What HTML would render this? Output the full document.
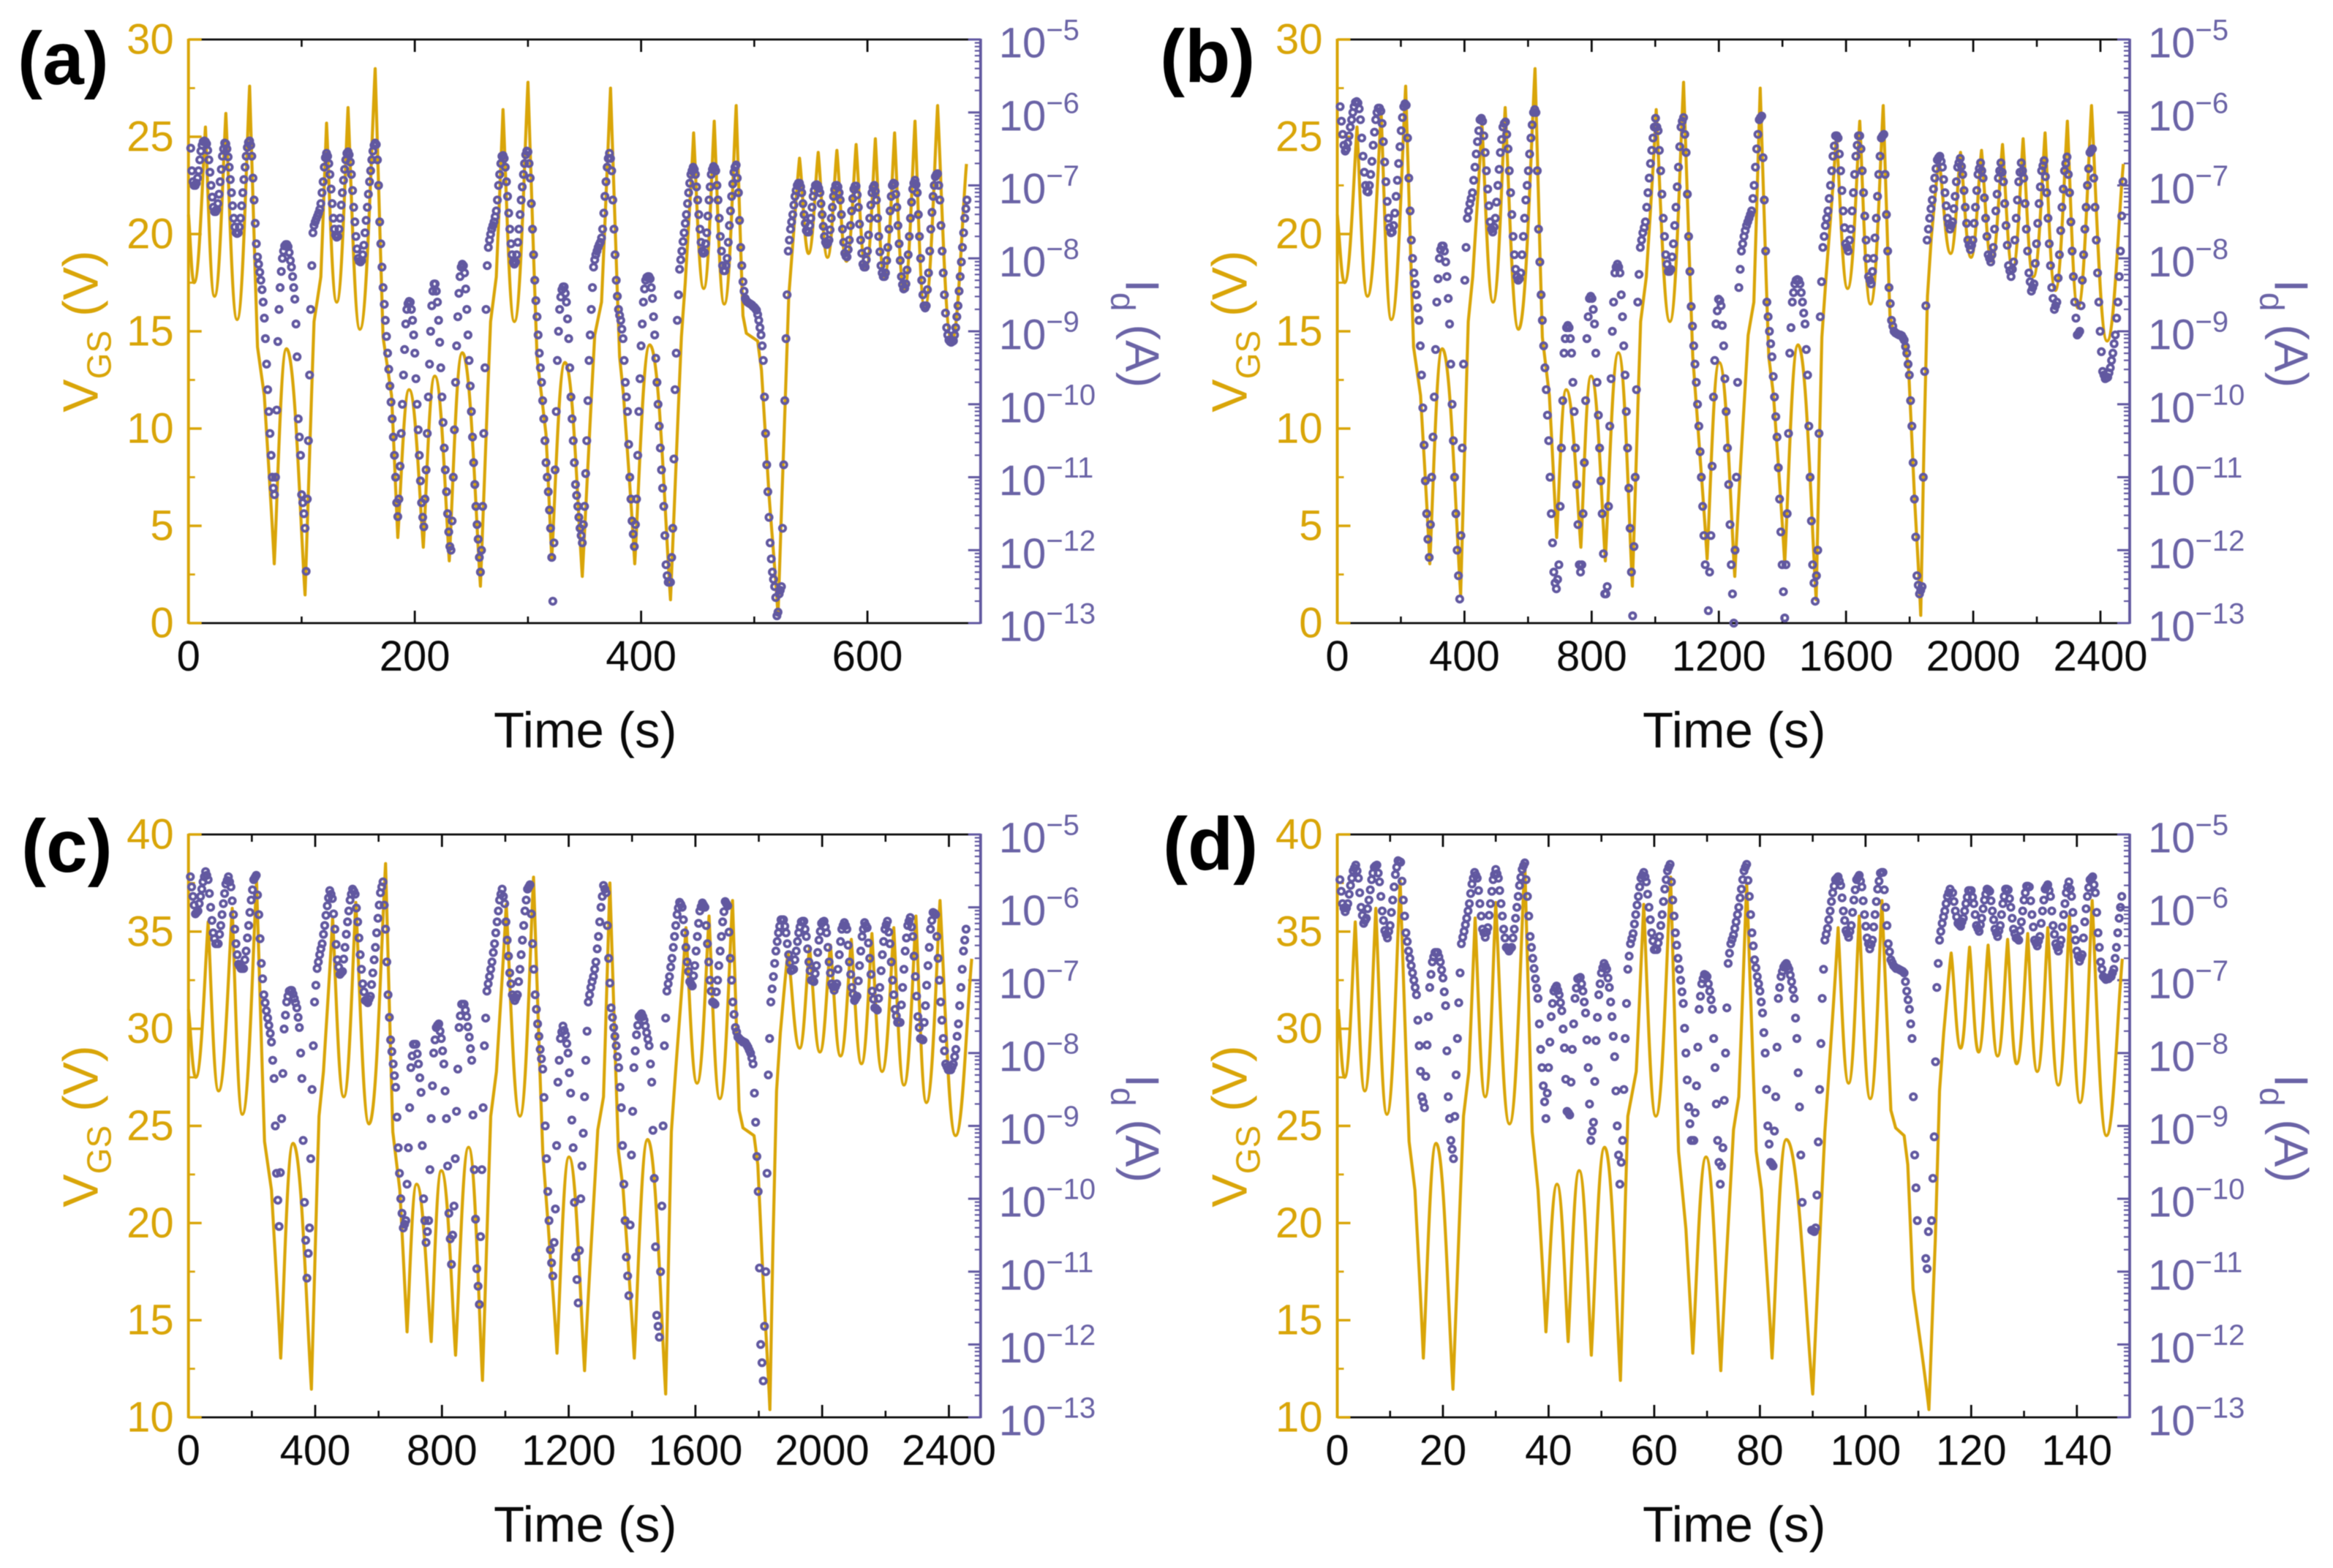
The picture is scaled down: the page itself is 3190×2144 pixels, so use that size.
<!DOCTYPE html>
<html lang="en">
<head>
<meta charset="utf-8">
<title>VGS and Id versus time, panels a to d</title>
<style>
html,body{margin:0;padding:0;background:#fff;}
svg{display:block;font-family:"Liberation Sans",Arial,sans-serif;filter:blur(0.6px);}
</style>
</head>
<body>
<svg id="figure" xmlns="http://www.w3.org/2000/svg" width="3190" height="2144" viewBox="0 0 3190 2144"></svg>
<script>
// Gate voltage waveform: base volts, shared by all panels (panels c and d add vgsOffsetCD).
const vgsVolts=[21,17.5,25.5,16.8,26.2,15.6,27.6,14.2,11.7,3.05,14.1,1.45,15.5,17.8,25.7,16.5,26.5,15.1,28.5,14.7,11.7,4.4,12,3.9,12.7,3.2,13.9,1.9,15.5,17.8,26.4,15.5,27.8,13.7,9.7,3.3,13.4,2.4,14.8,16.5,27.5,13.7,11.7,3.05,14.3,1.2,14.7,17.5,25.2,17.2,25.8,16.4,26.6,15.8,14.9,14.5,13,6.6,0.4,9.1,16.8,19.8,23.9,19,24.2,18.8,24.3,18.6,24.6,18.2,24.9,17.8,25.2,17.1,25.8,16.2,26.6,14.5,23.6];
const vgsOffsetCD=10;
const vgsTimesA=[0,5,15,23,33,43,54,61,67,75.8,86.6,103,111,117,122,131,141,151.5,165,172,179.5,185,195,207.5,217.7,230.5,242,258,267,272,278,288,300,308,316,321,332.7,348,359,365,373,381,384.5,394.4,407.6,426,435.6,439,446.4,455.3,464.6,473.5,484,490,493,503,506.4,513,521,526,530.5,534.4,540,548,556.5,564.7,573,581.5,590,598.6,607,615,624,632.5,642,650.6,662,674.4,687.5];
const vgsTimesLong=[0,23,62,95,138,170,215,240,262,291,330,388,412,426,455,490,528,570,622,645,667,690,720,766,798,843,884,928,954,972,1003,1046,1089,1118,1136,1163,1201,1250,1292,1310,1330,1357,1372,1407,1449,1506,1524,1536,1570,1605,1643,1677,1717,1738,1750,1785,1797,1815,1835,1845,1856,1868,1892,1929,1960,1993,2026,2058,2092,2124,2157,2189,2226,2258,2296,2329,2372,2421,2472];
const vgsTimesD=[0.2,1.4,3.4,5.2,7.3,9.4,11.9,13.6,14.7,16.3,18.7,21.9,23.9,24.9,26.1,28,30,32.6,35.5,36.9,38,39.5,41.6,43.7,45.8,48.1,50.6,53.6,55,56.6,58,60.3,63.1,64.6,66,67.3,69.8,72.6,75,76,77.5,79.3,80.3,82.3,85,90,92.3,93,94.8,96.8,98.8,100.9,103.1,104.8,105.7,107.3,108,109,112,113.2,114,114.8,116.2,118,119.7,121.4,123.2,125,126.9,128.6,130.7,132.5,134.5,136.5,138.6,140.6,142.9,145.6,148.6];

// Drain current: each run = [start time, then hundredths of a decade below 1 A at a fixed sample step].
const idRunsA=[
[2,649,680,695,700,700,697,690,680,665,653,645,640,639,640],
[16,643,652,665,682,700,716,730,736,736,733,725,712,695,678,660,650,642,643],
[34,650,661,675,692,710,728,745,757,765,766,765,757,745,728,710,692,675,660,648,641,639,645],
[56,660,690,720,752,780,798,808,819,830,843,860,882,910,945,980,1010,1040,1070,1100,1115,1124,1100],
[78,1008,914,870,840,818,800,790,783,781,781,784,792,803,812,825,840,856,890,935,1020,1045,1070,1124,1135,1150,1170,1229,1130],
[106,1050,960,870,810,765,755,750,746,742,738,733,725,710,695,675,662,656,660],
[124,670,685,705,725,745,760,768,771,770,760,745,727,710,693,678,665,656,654,658,668],
[144,685,707,730,750,770,787,800,804,805,803,795,782,765,748,730,712,695,680,665,653,645,642,644,665],
[168,700,750,780,812,840,863,885,907,930,952,975,997,1020,1045,1070,1100,1135,1154,1130,1085],
[188,1040,1000,960,925,890,870,862,859,860,870,885,905,930,965,1000,1035,1070,1105,1135,1155,1168,1130],
[210,1090,1040,990,945,900,865,845,835,835,845,860,885,915,950,990,1025,1060,1090,1120,1150,1175,1195,1200,1160],
[234,1100,1035,970,920,880,848,825,812,808,810,820,842,870,905,940,975,1010,1045,1080,1110,1140,1165,1185,1210,1230,1200],
[260,1140,1040,950,870,810,785,775,767,760,755,750,743,735,720,700,685,670,660,659,663],
[280,675,695,715,738,760,780,795,805,808,805,795,778,760,740,720,702,685,670,658,653,654,670],
[302,690,725,760,795,830,858,880,905,930,950,970,995,1020,1050,1080,1100,1120,1145,1170,1210,1270,1190],
[324,1090,1010,940,900,870,853,843,839,839,848,860,883,910,950,990,1020,1050,1080,1110,1125,1140,1155,1170,1180,1190,1165],
[350,1140,1095,1050,995,940,905,870,840,812,802,795,790,785,781,778,772,760,738,715,695,675,663,656,663],
[374,680,720,760,795,830,852,870,878,885,897,910,940,970,990,1010,1055,1100,1130,1160,1178,1195,1165],
[396,1130,1070,1010,965,920,890,860,842,830,826,825,825,828,840,855,880,905,937,970,1000,1030,1060,1090,1115,1140,1180,1220,1235,1244,1244],
[426,1244,1210,1170,1075,980,930,885,850,815,802,790,777,765,752,740,725,710,697,685,680,675,678],
[448,685,702,720,740,760,778,790,793,792,780,765,742,720,702,685,678,674,676],
[466,680,700,720,745,770,790,810,817,817,810,800,778,755,735,715,698,682,675,672,690],
[486,710,748,785,810,832,845,855,858,860,861,862,863,864,866,867,869,871,877,885,895,905,920,940,990,1040,1083,1120,1155,1190,1212,1230,1240,1250,1265,1290,1285],
[522,1260,1255,1250,1170,1083,995,910,850,790,775,760,750,740,727,715,707,700,697],
[540,697,702,710,725,740,752,762,764,764,755,745,730,715,707,700,699,700,704],
[558,710,725,740,756,770,778,781,779,775,761,745,730,715,706,700,700,702,710],
[576,720,740,760,778,793,797,798,788,775,755,735,718,705,701,701,713],
[592,730,753,775,793,808,812,812,802,790,768,745,727,710,703,700,708],
[608,720,745,770,791,810,820,825,825,820,803,785,760,735,715,700,697,698,712],
[626,730,755,780,803,825,836,842,841,835,816,795,770,745,723,705,697,693,699],
[644,710,740,770,800,830,850,865,868,865,843,820,790,760,737,715,700,688,685,684,700],
[664,720,755,790,820,850,875,895,905,912,914,915,914,913,905,895,880,865,845,825,805,785,765,745,732,720]
];
const idRunsB=[
[9,592,612,630,645,653,650,642,632,620,610,600,592,586,585,587,595],
[73,610,635,660,682,700,708,709,700,685,667,645,627,610,600,594,594,598,615],
[145,640,668,695,722,745,758,765,764,755,738,715,693,670,647,625,607,592,588,590,635],
[225,690,735,775,800,820,835,850,868,885,920,960,1005,1056,1105,1150,1185,1210,1165],
[297,1100,1045,990,925,860,828,800,788,783,783,790,805,825,855,890,945,1000,1050,1100,1150,1200,1235,1267,1180],
[393,1060,945,830,785,745,735,725,718,710,693,675,657,640,625,610,608,612,632],
[465,655,680,705,728,750,760,764,757,745,723,700,678,655,637,620,615,613,630],
[537,650,680,710,740,770,795,815,825,830,828,820,795,770,745,720,700,680,657,635,617,600,596,600,680],
[633,760,805,850,885,920,950,980,1015,1050,1100,1150,1190,1230,1245,1253,1240],
[697,1220,1140,1060,995,930,910,895,892,895,910,930,970,1010,1060,1110,1165,1220,1230,1220,1150],
[777,1080,995,910,880,855,852,855,870,890,930,970,1015,1060,1105,1150,1205,1260,1260,1250,1140],
[857,1030,965,900,860,820,812,808,812,820,850,880,920,960,1010,1060,1115,1170,1230,1290,1195],
[937,1100,980,860,822,785,775,765,758,750,730,710,690,670,652,635,620,608,620],
[1009,625,652,680,712,745,770,795,808,818,818,815,798,780,755,730,702,675,647,620,612,607,630],
[1097,655,712,770,818,866,893,920,945,970,1000,1030,1065,1100,1140,1180,1220],
[1167,1283,1230,1180,1085,990,940,890,872,856,858,865,892,920,965,1010,1060,1110,1165,1220,1260,1300,1200],
[1255,1100,970,840,815,790,780,770,762,755,750,745,740,735,718,700,675,650,630,610,607],
[1335,605,662,720,790,860,880,900,917,935,962,990,1017,1045,1087,1130,1175,1220,1257,1293,1220],
[1415,1150,1040,930,895,860,847,835,830,829,830,835,847,860,875,890,925,960,1030,1100,1160,1220,1245,1270,1235],
[1511,1200,1040,880,832,785,770,755,745,735,718,700,680,660,646,632,632],
[1575,635,657,680,707,735,758,780,785,790,775,760,735,710,685,660,645,632,632],
[1647,650,680,710,742,775,800,825,830,835,818,800,772,745,715,685,660,635,632,630,685],
[1727,740,790,840,862,885,893,900,902,903,904,905,905,906,909,912,921,930,945,960,995,1030,1080,1130,1182,1235,1248,1260,1255,1250,1100],
[1847,955,865,775,760,745,732,720,705,690,677,665,662,660,667],
[1903,675,692,710,728,745,753,760,755,750,732,715,695,675,669,663,674],
[1967,685,707,730,752,775,782,788,782,775,752,730,707,685,677,669,680],
[2031,690,717,745,770,795,800,805,795,785,760,735,712,690,680,669,682],
[2095,695,725,755,782,810,817,825,815,805,775,745,720,695,682,669,680],
[2159,690,725,760,790,820,832,845,840,835,807,780,752,725,702,680,673,666,688],
[2231,710,745,780,810,840,855,870,865,860,827,795,762,730,705,680,670,661,685],
[2303,710,750,790,825,860,882,905,903,900,865,830,795,760,730,700,677,655,652,650,690],
[2383,730,775,820,860,900,928,955,960,965,964,963,957,950,940,930,917,905,882,860,825,790,742,695]
];
const idRunsC=[
[6,558,572,585,597,609,607,605,595,585,575,565,558,551,556],
[62,562,581,600,618,635,643,650,650,650,637,625,610,595,581,568,563,558,565],
[134,572,591,610,630,650,665,678,681,684,684,684,672,660,642,625,607,590,576,562,559,556,583],
[222,610,643,677,698,720,731,742,752,762,773,785,810,835,900,965,1002,1038,964],
[294,890,828,767,748,730,722,715,714,714,719,725,731,738,751,765,800,835,920,1005,1057,1109,1075],
[382,1040,945,850,790,730,707,684,675,665,657,650,637,625,611,598,587,577,582],
[454,588,609,630,651,672,682,692,690,688,671,655,637,620,605,590,582,575,578],
[526,582,601,620,642,665,685,705,716,728,729,731,726,722,706,690,672,655,635,615,597,580,572,565,597],
[622,630,675,720,751,782,798,815,831,847,888,930,965,1000,1020,1040,1035,1030,980],
[694,930,875,820,804,788,788,788,801,815,834,854,927,1000,1030,1060,1045,1030,960],
[766,890,845,800,782,765,762,760,770,780,797,815,852,890,955,1020,1055,1090,1050,1010,945],
[846,880,822,765,749,733,733,733,741,750,764,778,794,810,885,960,1028,1096,1120,1145,1052],
[926,960,875,790,752,715,705,695,685,675,662,650,635,620,605,590,582,575,585],
[998,595,620,645,667,690,705,720,724,728,724,720,702,685,665,645,625,605,590,575,572,569,609],
[1086,650,685,720,740,760,777,795,808,822,861,900,945,990,1030,1070,1088,1106,1060],
[1158,1014,927,840,810,780,771,763,769,775,787,800,827,855,892,930,1005,1080,1111,1143,1071],
[1238,1000,955,910,860,810,770,730,720,710,702,695,685,675,657,640,620,600,585,570,575],
[1318,580,625,670,704,738,751,765,777,790,805,820,847,875,927,980,1030,1080,1106,1133,1036],
[1398,940,880,820,797,775,762,750,748,746,750,755,763,772,781,790,815,840,906,972,1066,1160,1175,1190,1100],
[1494,1010,900,790,752,715,705,695,682,670,655,640,625,610,601,593,596],
[1558,600,617,635,655,675,688,702,705,708,694,680,660,640,622,605,599,594,597],
[1630,600,625,650,675,700,715,730,731,733,716,700,680,660,640,620,606,592,595],
[1702,598,634,670,700,730,747,765,771,778,780,782,783,785,785,786,789,792,796,800,807,815,855,895,942,990,1095,1200,1225,1250,1175],
[1822,1100,965,830,780,730,712,695,677,660,647,635,626,617,617,617,626],
[1886,635,650,665,676,687,686,685,672,660,647,635,627,620,619,619,630],
[1950,640,657,675,687,700,701,702,691,680,662,645,633,622,620,619,627],
[2014,635,655,675,690,705,709,714,709,705,685,665,647,630,625,621,625],
[2078,630,652,675,692,710,719,728,725,722,701,680,660,640,630,621,625],
[2142,628,649,670,692,715,726,738,739,741,725,710,687,665,647,630,624,619,634],
[2214,650,675,700,720,740,749,758,758,758,734,710,685,660,642,625,619,614,627],
[2286,640,667,695,722,750,765,780,781,782,758,735,707,680,655,630,618,607,608,610,640],
[2366,670,700,730,755,780,797,815,819,823,823,823,819,815,805,795,777,760,735,710,685,660,645,630]
];
const idRunsD=[
[0.5,562,578,595,601,606,601,595,582,570,560,550,546,542,550],
[4,560,580,600,611,622,618,615,602,590,576,562,553,545,543,542,553],
[8,565,585,605,618,632,637,642,633,625,607,590,572,555,545,536,537,538,564],
[12.5,590,612,635,647,660,670,680,690,700,710,720,755,790,825,860,867,875,832],
[17,789,750,710,692,675,668,662,662,662,668,675,686,697,716,735,797,860,890,920,932,945,887],
[22.5,830,780,731,690,650,641,633,624,615,605,595,581,568,560,552,556],
[26.5,560,577,595,612,630,635,641,634,628,611,595,578,562,555,548,554],
[30.5,560,577,595,612,630,642,655,657,660,657,655,642,630,615,600,585,570,559,548,543,539,562],
[36,585,612,640,655,670,684,698,711,725,760,795,820,845,867,890,855],
[40,820,785,750,732,715,711,708,714,720,731,742,767,793,836,880,882],
[44,885,840,795,760,725,711,698,697,696,705,715,730,745,782,820,870,920,907],
[48.5,895,839,783,751,720,705,690,683,677,681,685,697,710,730,750,777,805,852,900,940,980,950],
[54,920,850,780,732,685,667,650,643,636,623,610,597,585,572,560,556,552,558],
[58.5,565,582,600,617,635,646,658,658,658,649,640,625,610,592,575,562,550,545,541,565],
[63.5,590,612,635,652,670,685,700,716,732,766,800,837,874,897,920,920,920,882],
[68,845,792,740,722,705,698,692,693,695,705,715,727,740,780,820,870,920,950,980,955],
[73,930,865,800,738,677,663,650,644,638,629,620,610,600,587,575,562,550,545,541,563],
[78,585,610,635,653,672,683,695,705,715,730,745,772,800,850,900,925,950,952,955,907],
[83,860,792,725,710,695,688,682,679,677,681,685,693,702,713,725,752,780,827,874,940,1005],
[89.8,1043,1044,1045,1040],
[90.8,995,922,850,787,725,685,645,637,629,617,605,592,580,571,562,560,558,564],
[95.3,570,587,605,618,632,636,641,633,625,607,590,576,562,559,556,564],
[99.3,572,591,610,626,642,650,657,651,645,627,610,592,575,564,553,552,552,576],
[103.8,600,625,650,661,672,676,680,682,684,684,685,686,687,688,690,702,715,727,740,760,780,860,940,985,1030],
[111.4,1082,1096,1045],
[112.5,1030,972,915,812,710,677,645,633,622,613,605,595,585,580,575],
[116.5,580,592,605,613,622,624,626,620,615,605,595,586,577,577,577,586],
[120.5,595,610,625,629,633,624,615,602,590,582,575,576,578,591],
[124,605,617,630,635,640,632,625,610,595,585,575,575,576,588],
[127.5,600,615,630,636,642,643,645,632,620,605,590,580,571,571,572,591],
[131.5,610,627,645,649,653,646,640,622,605,590,575,572,569,577],
[135,585,605,625,637,650,655,660,652,645,627,610,595,580,572,565,575],
[139,585,607,630,645,660,667,674,669,665,642,620,602,585,573,562,560,558,569],
[143.5,580,607,635,655,675,685,695,697,699,698,698,696,695,690,685,670,655,635,615,600,585]
];

// Axis ticks and labels
const xMajorA=[0,200,400,600];
const xMinorA=[100,300,500];
const xMajorLong=[0,400,800,1200,1600,2000,2400];
const xMinorLong=[200,600,1000,1400,1800,2200];
const xMajorD=[0,20,40,60,80,100,120,140];
const xMinorD=[10,30,50,70,90,110,130];
const vMajorAB=[0,5,10,15,20,25,30];
const vMinorAB=[2.5,7.5,12.5,17.5,22.5,27.5];
const vMajorCD=[10,15,20,25,30,35,40];
const vMinorCD=[12.5,17.5,22.5,27.5,32.5,37.5];
const idExponents=[-5,-6,-7,-8,-9,-10,-11,-12,-13];
const idMinorMultipliers=[2,3,4,5,6,7,8,9];

const GOLD='#d9a508',PURPLE='#6158a0',PURPLE_TEXT='#6a63a6',INK='#0a0a0a';
const svg=document.getElementById('figure');
const NS='http://www.w3.org/2000/svg';
function make(tag,attrs,parent,text){
  const e=document.createElementNS(NS,tag);
  for(const k in attrs)e.setAttribute(k,attrs[k]);
  if(text!==undefined)e.textContent=text;
  parent.appendChild(e);
  return e;
}
function curve(ts,vs,off,X,Y){
  const px=i=>X(ts[i]),py=i=>Y(vs[i]+off);
  function handle(a,b){
    const dx=px(b)-px(a),dy=py(b)-py(a);
    const ext=a>0&&a<ts.length-1&&(vs[a]-vs[a-1])*(vs[a+1]-vs[a])<0;
    if(!ext)return [px(a)+dx*0.33,py(a)+dy*0.33];
    const lvl=Math.abs(vs[a]-15);
    const round=lvl<6?1:lvl>10?0:(10-lvl)/4;
    const sx=px(a)+dx*0.3,sy=py(a)+dy*0.36;
    const rx=px(a)+dx*0.45,ry=py(a);
    return [sx+(rx-sx)*round,sy+(ry-sy)*round];
  }
  let d='M'+px(0).toFixed(1)+' '+py(0).toFixed(1);
  for(let i=0;i<ts.length-1;i++){
    const c1=handle(i,i+1),c2=handle(i+1,i);
    d+='C'+c1[0].toFixed(1)+' '+c1[1].toFixed(1)+' '+c2[0].toFixed(1)+' '+c2[1].toFixed(1)+' '+px(i+1).toFixed(1)+' '+py(i+1).toFixed(1);
  }
  return d;
}
function drawPanel(cfg){
  const {key,L,R,T,B,xMax,vMin,vMax,xMajor,xMinor,vMajor,vMinor,vgsTimes,vgsOff,runs,dt,tagX,tagY}=cfg;
  const X=t=>L+t/xMax*(R-L);
  const Y=v=>B-(v-vMin)/(vMax-vMin)*(B-T);
  const YI=l=>T+(-5-l)/8*(B-T);
  const g=make('g',{},svg);
  
  

  // Time axis: top and bottom black lines
  const topAxis=make('line',{x1:L,x2:R,y1:T,y2:T,stroke:INK,'stroke-width':2.8},g);
  
  
  const botAxis=make('line',{x1:L,x2:R,y1:B,y2:B,stroke:INK,'stroke-width':2.8},g);
  
  
  xMajor.forEach(v=>{
    const x=X(v);
    if(v>0){
      const a=make('line',{x1:x,x2:x,y1:T,y2:T+17,stroke:INK,'stroke-width':2.8},g);
      
      
      const b=make('line',{x1:x,x2:x,y1:B,y2:B-17,stroke:INK,'stroke-width':2.8},g);
      
      
    }
    const lab=make('text',{x:x,y:B+65,'font-size':58,'text-anchor':'middle',fill:INK},g,String(v));
    
    
  });
  xMinor.forEach(v=>{
    const x=X(v);
    const a=make('line',{x1:x,x2:x,y1:T,y2:T+10,stroke:INK,'stroke-width':2.6},g);
    
    
    const b=make('line',{x1:x,x2:x,y1:B,y2:B-9,stroke:INK,'stroke-width':2.6},g);
    
    
  });
  const xt=make('text',{x:(L+R)/2+1,y:B+170,'font-size':69,'text-anchor':'middle',fill:INK},g,'Time (s)');
  
  

  // VGS axis
  const leftAxis=make('line',{x1:L,x2:L,y1:T-1,y2:B+1,stroke:GOLD,'stroke-width':4},g);
  
  
  vMajor.forEach(v=>{
    const y=Y(v);
    const tk=make('line',{x1:L,x2:L+18,y1:y,y2:y,stroke:GOLD,'stroke-width':3.4},g);
    
    
    const lab=make('text',{x:L-20,y:y+19.5,'font-size':58,'text-anchor':'end',fill:GOLD},g,String(v));
    
    
  });
  vMinor.forEach(v=>{
    const y=Y(v);
    const tk=make('line',{x1:L,x2:L+9,y1:y,y2:y,stroke:GOLD,'stroke-width':2.8},g);
    
    
  });
  const vy=T+399,vx=L-124;
  const vt=make('text',{transform:'translate('+vx+' '+vy+') rotate(-90)','font-size':68,'text-anchor':'middle',fill:GOLD},g);
  
  
  make('tspan',{},vt,'V');
  make('tspan',{'font-size':46,dy:18},vt,'GS');
  make('tspan',{dy:-18},vt,' (V)');

  // Id axis
  const rightAxis=make('line',{x1:R,x2:R,y1:T-1,y2:B+1,stroke:PURPLE,'stroke-width':3.8},g);
  
  
  idExponents.forEach(e=>{
    const y=YI(e);
    const tk=make('line',{x1:R,x2:R-17,y1:y,y2:y,stroke:PURPLE,'stroke-width':3},g);
    
    
    const lab=make('text',{x:R+25,y:y+24.5,'font-size':58,fill:PURPLE_TEXT},g);
    
    
    make('tspan',{},lab,'10');
    make('tspan',{'font-size':40,dy:-24},lab,'\u2212'+Math.abs(e));
  });
  idExponents.slice(1).forEach(e=>{
    idMinorMultipliers.forEach(m=>{
      const y=YI(e+Math.log10(m));
      const tk=make('line',{x1:R,x2:R-8,y1:y,y2:y,stroke:PURPLE,'stroke-width':2.2},g);
      
      
    });
  });
  const iy=T+402,ix=L+1282;
  const it=make('text',{transform:'translate('+ix+' '+iy+') rotate(90)','font-size':65,'text-anchor':'middle',fill:PURPLE_TEXT},g);
  
  
  make('tspan',{},it,'I');
  make('tspan',{'font-size':46,dy:20},it,'d');
  make('tspan',{dy:-20},it,' (A)');

  // VGS line
  const line=make('path',{d:curve(vgsTimes,vgsVolts,vgsOff,X,Y),fill:'none',stroke:GOLD,'stroke-width':4.2,'stroke-linejoin':'round'},g);
  
  

  // Id markers
  const mk=make('g',{fill:'none',stroke:PURPLE,'stroke-width':3.8},g);
  
  
  runs.forEach(run=>{
    for(let i=1;i<run.length;i++){
      const t=run[0]+(i-1)*dt;
      const c=make('circle',{cx:X(t).toFixed(1),cy:YI(-run[i]/100).toFixed(1),r:4.2},mk);
      
      
    }
  });

  // Panel tag
  const tag=make('text',{x:tagX,y:tagY,'font-size':102,'font-weight':'bold',fill:'#000'},g,'('+key+')');
  
  
}
drawPanel({key:'a',L:257.7,R:1340.8,T:54,B:852,xMax:700,vMin:0,vMax:30,xMajor:xMajorA,xMinor:xMinorA,vMajor:vMajorAB,vMinor:vMinorAB,vgsTimes:vgsTimesA,vgsOff:0,runs:idRunsA,dt:1,tagX:24,tagY:115});
drawPanel({key:'b',L:1828.5,R:2912,T:54,B:852,xMax:2492,vMin:0,vMax:30,xMajor:xMajorLong,xMinor:xMinorLong,vMajor:vMajorAB,vMinor:vMinorAB,vgsTimes:vgsTimesLong,vgsOff:0,runs:idRunsB,dt:4,tagX:1586,tagY:112});
drawPanel({key:'c',L:257.7,R:1340.8,T:1141,B:1938,xMax:2500,vMin:10,vMax:40,xMajor:xMajorLong,xMinor:xMinorLong,vMajor:vMajorCD,vMinor:vMinorCD,vgsTimes:vgsTimesLong,vgsOff:vgsOffsetCD,runs:idRunsC,dt:4,tagX:29,tagY:1192});
drawPanel({key:'d',L:1828.5,R:2912,T:1141,B:1938,xMax:150,vMin:10,vMax:40,xMajor:xMajorD,xMinor:xMinorD,vMajor:vMajorCD,vMinor:vMinorCD,vgsTimes:vgsTimesD,vgsOff:vgsOffsetCD,runs:idRunsD,dt:0.25,tagX:1590,tagY:1189});
</script>
</body>
</html>
